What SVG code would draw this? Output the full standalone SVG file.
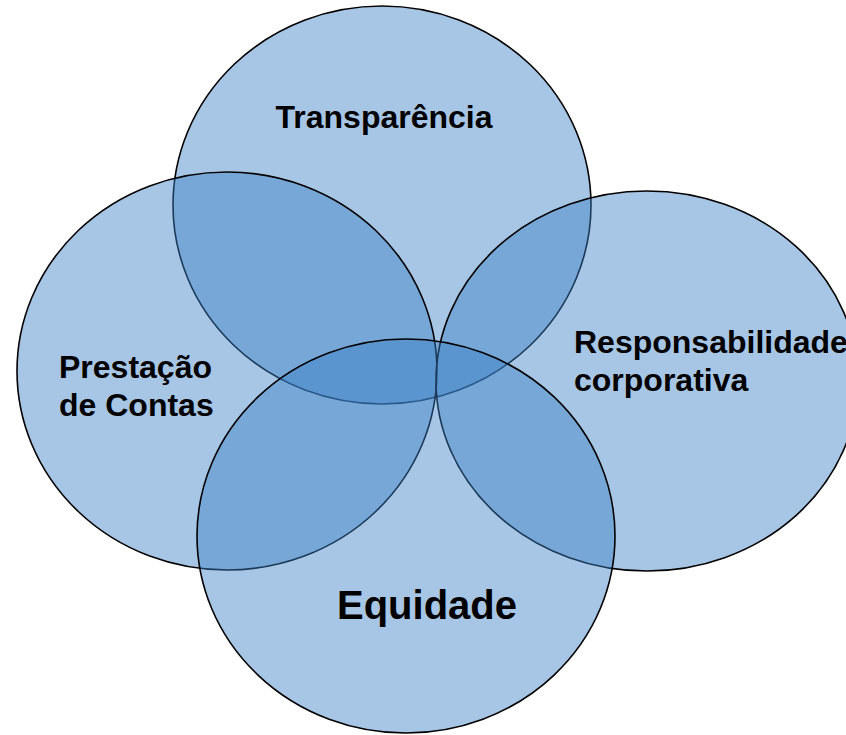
<svg xmlns="http://www.w3.org/2000/svg" width="846" height="735" viewBox="0 0 846 735">
<style>
.c{fill:#3B80C5;fill-opacity:0.45;stroke:#000;stroke-width:1.6}
.t{font-family:"Liberation Sans",Arial,sans-serif;font-weight:bold;font-size:32px;fill:#000}
</style>
<rect width="846" height="735" fill="#fff"/>
<g id="transparencia"><ellipse class="c" cx="382" cy="205" rx="209" ry="199"/></g>
<g id="prestacao"><ellipse class="c" cx="227" cy="371" rx="210" ry="199"/></g>
<g id="responsabilidade"><ellipse class="c" cx="647" cy="381" rx="211" ry="190"/></g>
<g id="equidade"><ellipse class="c" cx="406" cy="536" rx="209" ry="197"/></g>
<g id="labels">
<text class="t" x="384" y="128" text-anchor="middle">Transparência</text>
<text class="t" x="59" y="378">Prestação</text>
<text class="t" x="59" y="416">de Contas</text>
<text class="t" x="574" y="353">Responsabilidade</text>
<text class="t" x="574" y="391">corporativa</text>
<text class="t" x="427" y="619" text-anchor="middle" style="font-size:40px">Equidade</text>
</g>
</svg>
